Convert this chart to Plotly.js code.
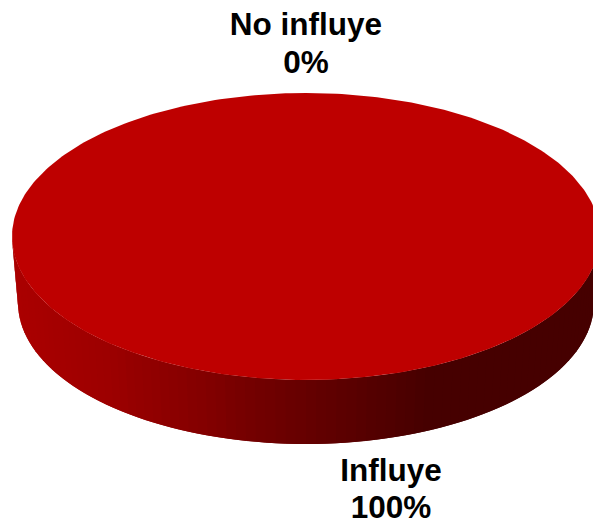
<!DOCTYPE html>
<html><head><meta charset="utf-8">
<style>html,body{margin:0;padding:0;background:#fff}#c{width:593px;height:522px}</style>
<script src="https://cdn.plot.ly/plotly-3.0.1.min.js"></script></head>
<body><div id="c"></div><script>
const categories = ['No influye', 'Influye'];
const values = [0, 100];
const sliceColors = ['#3a5fa8', '#BE0000'];
const labelX = [306, 391];
const nameY = [27, 473];
const pctY = [65, 510];
const shadeX = [15, 100, 200, 250, 350, 430, 600];
const shadeR = [170, 158, 132, 116, 90, 70, 70];

const top_ = {cx: 306, cy: 236.5, rx: 294, ry: 143.5};
const bot = {cx: 306, cy: 303, rx: 288, ry: 141};
const pt = (e, a) => [e.cx + e.rx * Math.cos(a), e.cy + e.ry * Math.sin(a)];
const total = values.reduce((s, v) => s + v, 0);
const traces = [];

function shade(x) {
  let i = 0;
  while (i < shadeX.length - 2 && x > shadeX[i + 1]) i++;
  const t = Math.max(0, Math.min(1, (x - shadeX[i]) / (shadeX[i + 1] - shadeX[i])));
  return `rgb(${Math.round(shadeR[i] + t * (shadeR[i + 1] - shadeR[i]))},0,0)`;
}
// Side wall: front half of the disc in narrow shaded bands, each one
// overlapping the next so that no white seam shows between them.
const bands = 90;
for (let b = 0; b < bands; b++) {
  const a0 = Math.PI - Math.PI * b / bands;
  const a1 = Math.PI - Math.PI * (b + 1) / bands;
  const a2 = Math.max(0, a1 - Math.PI / bands);
  const arcT = [], arcB = [];
  [a0, a1, a2].forEach(a => { arcT.push(pt(top_, a)); arcB.push(pt(bot, a)); });
  const q = [...arcT, ...arcB.reverse(), arcT[0]];
  const c = shade((arcT[0][0] + arcT[1][0]) / 2);
  traces.push({type: 'scatter', mode: 'lines', x: q.map(p => p[0]), y: q.map(p => p[1]),
    fill: 'toself', fillcolor: c, line: {width: 0}, hoverinfo: 'skip', showlegend: false});
}
// Top face: one wedge for every category, sized from its value.
let start = -Math.PI / 2;
values.forEach((v, i) => {
  if (v === 0) return;
  const sweep = 2 * Math.PI * v / total, n = 360, xs = [], ys = [];
  for (let k = 0; k <= n; k++) {
    const p = pt(top_, start + sweep * k / n);
    xs.push(p[0]); ys.push(p[1]);
  }
  traces.push({type: 'scatter', mode: 'lines', x: xs, y: ys, fill: 'toself',
    fillcolor: sliceColors[i], line: {width: 0},
    name: categories[i], hoverinfo: 'name', showlegend: false});
  start += sweep;
});
const font = {family: '"Liberation Sans", Arial, sans-serif', size: 31.5, color: '#000', weight: 700};
traces.push({type: 'scatter', mode: 'text', x: labelX, y: nameY, text: categories,
  textposition: 'middle center', cliponaxis: false, hoverinfo: 'skip', showlegend: false, textfont: font});
traces.push({type: 'scatter', mode: 'text', x: labelX, y: pctY,
  text: values.map(v => `${Math.round(100 * v / total)}%`),
  textposition: 'middle center', cliponaxis: false, hoverinfo: 'skip', showlegend: false, textfont: font});

Plotly.newPlot('c', traces, {
  width: 593, height: 522, margin: {l: 0, r: 0, t: 0, b: 0},
  paper_bgcolor: '#fff', plot_bgcolor: '#fff', showlegend: false,
  xaxis: {range: [0, 593], visible: false, fixedrange: true},
  yaxis: {range: [522, 0], visible: false, fixedrange: true}
}, {displayModeBar: false, staticPlot: true});
</script></body></html>
